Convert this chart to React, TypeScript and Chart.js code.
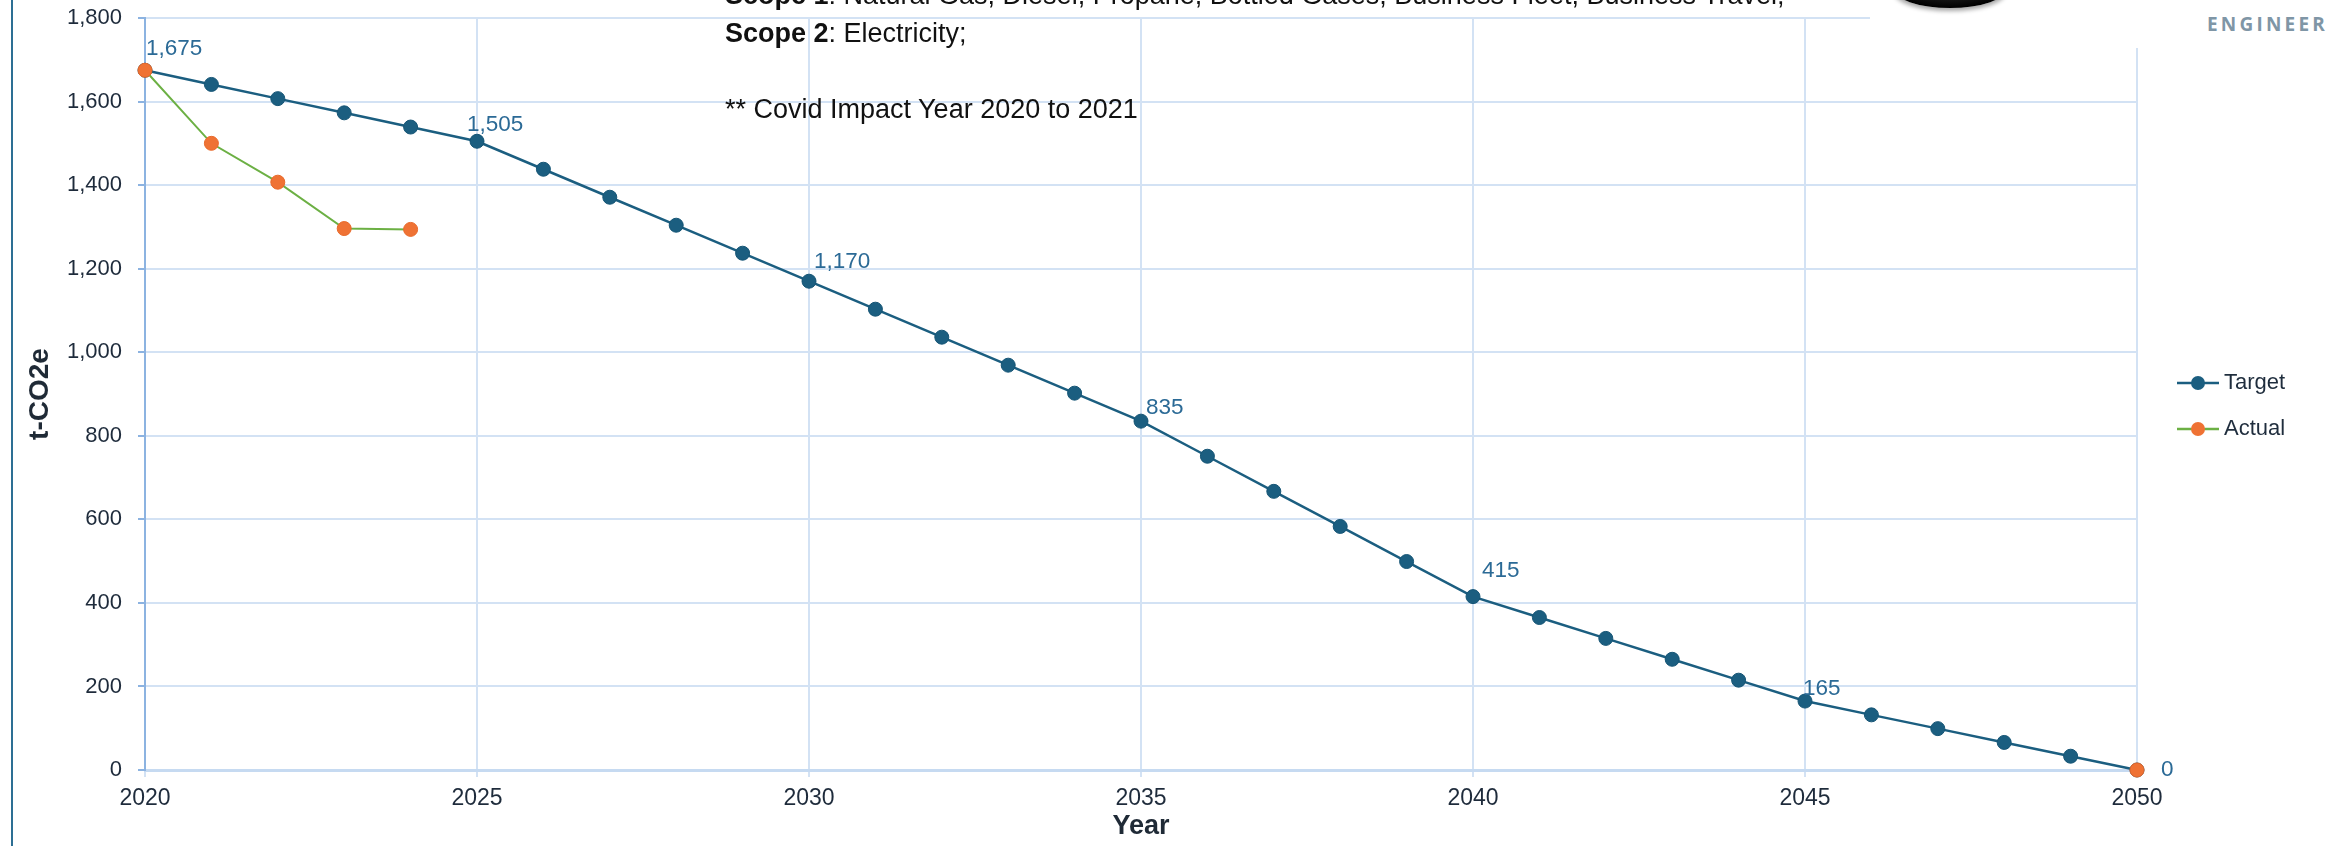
import React, { useEffect, useRef } from "react";
import { Chart, registerables } from "chart.js";

Chart.register(...registerables);

// ---- data ----
const years = [
  2020, 2021, 2022, 2023, 2024, 2025, 2026, 2027, 2028, 2029, 2030, 2031, 2032, 2033, 2034, 2035,
  2036, 2037, 2038, 2039, 2040, 2041, 2042, 2043, 2044, 2045, 2046, 2047, 2048, 2049, 2050,
];
const targetValues = [
  1675, 1641, 1607, 1573, 1539, 1505, 1438, 1371, 1304, 1237, 1170, 1103, 1036, 969, 902, 835,
  751, 667, 583, 499, 415, 365, 315, 265, 215, 165, 132, 99, 66, 33, 0,
];
const actualValues: (number | null)[] = [
  1675, 1500, 1407, 1296, 1294, null, null, null, null, null, null, null, null, null, null, null,
  null, null, null, null, null, null, null, null, null, null, null, null, null, null, 0,
];
const labeledYears = [2020, 2025, 2030, 2035, 2040, 2045, 2050];
const seriesNames = ["Target", "Actual"];
const yTitle = "t-CO2e";
const xTitle = "Year";
const noteLine1Bold = "Scope 1";
const noteLine1 = ": Natural Gas, Diesel, Propane, Bottled Gases, Business Fleet, Business Travel;";
const noteLine2Bold = "Scope 2";
const noteLine2 = ": Electricity;";
const noteLine3 = "** Covid Impact Year 2020 to 2021";

// ---- styles ----
const FONT = "'Liberation Sans', Arial, sans-serif";
const TARGET_COLOR = "#1b5e80";
const ACTUAL_LINE = "#6cb044";
const ACTUAL_POINT = "#ef7234";
const GRID = "#d3e2f4";
const TICK_TEXT = "#1e2b3b";
const LABEL_BLUE = "#2b6a96";
// label offsets (dx, dy) for the labelled target points, in order of labeledYears
const labelOffsets = [
  [1, -21], [-10, -16], [5, -19], [5, -13], [9, -26], [-2, -12], [24, 0],
];

const labelsPlugin = {
  id: "customLabels",
  afterDatasetsDraw(chart: any) {
    const ctx = chart.ctx;
    const xs = chart.scales.x;
    const ys = chart.scales.y;
    ctx.save();
    ctx.font = `22.5px ${FONT}`;
    ctx.fillStyle = LABEL_BLUE;
    ctx.textAlign = "left";
    ctx.textBaseline = "middle";
    labeledYears.forEach((yr, i) => {
      const idx = years.indexOf(yr);
      const v = targetValues[idx];
      const px = xs.getPixelForValue(yr);
      const py = ys.getPixelForValue(v);
      const [dx, dy] = labelOffsets[i];
      ctx.fillText(v.toLocaleString("en-US"), px + dx, py + dy);
    });
    ctx.restore();

    // legend
    const items = [
      { label: seriesNames[0], line: TARGET_COLOR, fill: TARGET_COLOR },
      { label: seriesNames[1], line: ACTUAL_LINE, fill: ACTUAL_POINT },
    ];
    ctx.save();
    items.forEach((it, i) => {
      const y = 383 + i * 46;
      ctx.strokeStyle = it.line;
      ctx.lineWidth = 2.5;
      ctx.beginPath();
      ctx.moveTo(2177, y);
      ctx.lineTo(2219, y);
      ctx.stroke();
      ctx.fillStyle = it.fill;
      ctx.beginPath();
      ctx.arc(2198, y, 7, 0, Math.PI * 2);
      ctx.fill();
      ctx.fillStyle = "#1f2d3d";
      ctx.font = `22px ${FONT}`;
      ctx.textAlign = "left";
      ctx.textBaseline = "middle";
      ctx.fillText(it.label, 2224, y);
    });
    ctx.restore();
  },
};

export default function App() {
  const ref = useRef<HTMLCanvasElement>(null);

  useEffect(() => {
    if (!ref.current) return;
    const chart = new Chart(ref.current, {
      type: "line",
      data: {
        datasets: [
          {
            label: seriesNames[0],
            data: years.map((x, i) => ({ x, y: targetValues[i] })),
            borderColor: TARGET_COLOR,
            backgroundColor: TARGET_COLOR,
            borderWidth: 2.5,
            pointRadius: 7,
            pointBorderWidth: 1,
            pointBackgroundColor: TARGET_COLOR,
            pointBorderColor: "#165575",
            tension: 0,
            clip: false,
            order: 2,
          },
          {
            label: seriesNames[1],
            data: years.map((x, i) => ({ x, y: actualValues[i] })),
            borderColor: ACTUAL_LINE,
            backgroundColor: ACTUAL_POINT,
            borderWidth: 2,
            pointRadius: 7,
            pointBorderWidth: 1,
            pointBackgroundColor: ACTUAL_POINT,
            pointBorderColor: "#e8692a",
            spanGaps: false,
            tension: 0,
            clip: false,
            order: 1,
          },
        ],
      },
      options: {
        animation: false,
        responsive: false,
        devicePixelRatio: 1,
        layout: { padding: { top: 18, right: 198, bottom: 0, left: 0 } },
        plugins: { legend: { display: false }, tooltip: { enabled: false } },
        scales: {
          x: {
            type: "linear",
            min: 2020,
            max: 2050,
            ticks: {
              stepSize: 5,
              autoSkip: false,
              maxRotation: 0,
              padding: 8,
              color: TICK_TEXT,
              font: { size: 23, family: FONT },
              callback: (v: any) => String(v),
            },
            grid: { color: GRID, lineWidth: 2, tickLength: 7, tickColor: GRID },
            border: { color: "#c6daf1", width: 3 },
            title: {
              display: true,
              text: xTitle,
              color: "#1f2a36",
              font: { size: 27, weight: "bold", family: FONT },
              padding: { top: 0, bottom: 3.5 },
            },
            afterFit: (s: any) => {
              s.height = 76;
            },
          },
          y: {
            min: 0,
            max: 1800,
            ticks: {
              stepSize: 200,
              padding: 16,
              color: TICK_TEXT,
              font: { size: 22, family: FONT },
              callback: (v: any) => Number(v).toLocaleString("en-US"),
            },
            grid: { color: GRID, lineWidth: 2, tickLength: 7, tickColor: "#8cb3e1" },
            border: { color: "#8cb3e1", width: 2 },
            title: {
              display: true,
              text: yTitle,
              color: "#1f2a36",
              font: { size: 28, weight: "bold", family: FONT },
              padding: { top: 23, bottom: 0 },
            },
            afterFit: (s: any) => {
              s.width = 145;
              s.paddingTop = 0;
              s.paddingBottom = 0;
            },
          },
        },
      },
      plugins: [labelsPlugin],
    } as any);
    return () => chart.destroy();
  }, []);

  return (
    <div
      style={{
        position: "fixed",
        left: 0,
        top: 0,
        width: 2335,
        height: 846,
        background: "#ffffff",
        overflow: "hidden",
      }}
    >
      <canvas ref={ref} width={2335} height={846} style={{ position: "absolute", left: 0, top: 0 }} />
      {/* left frame line */}
      <div style={{ position: "absolute", left: 11, top: 0, width: 2, height: 846, background: "#2d6f94" }} />
      {/* note text */}
      <div
        style={{
          position: "absolute",
          left: 725,
          top: -24,
          fontFamily: FONT,
          fontSize: 27,
          lineHeight: "38px",
          color: "#111111",
          whiteSpace: "pre",
        }}
      >
        <div>
          <b>{noteLine1Bold}</b>
          {noteLine1}
        </div>
        <div>
          <b>{noteLine2Bold}</b>
          {noteLine2}
        </div>
        <div>&nbsp;</div>
        <div>{noteLine3}</div>
      </div>
      {/* logo area */}
      <div style={{ position: "absolute", left: 1870, top: 0, width: 465, height: 48, background: "#ffffff", overflow: "hidden" }}>
        <div
          style={{
            position: "absolute",
            left: 23,
            top: -32,
            width: 114,
            height: 40,
            borderRadius: "50%",
            background: "radial-gradient(ellipse at 50% 40%, #3a3a3a 0%, #000 70%)",
            boxShadow: "0 3px 4px rgba(0,0,0,0.35)",
          }}
        />
        <div
          style={{
            position: "absolute",
            left: 337,
            top: 14,
            fontFamily: "'Open Sans', 'Liberation Sans', sans-serif",
            fontWeight: 700,
            fontSize: 19,
            lineHeight: "20px",
            letterSpacing: 3.2,
            color: "#7f96a6",
            whiteSpace: "pre",
          }}
        >
          ENGINEER
        </div>
      </div>
    </div>
  );
}
